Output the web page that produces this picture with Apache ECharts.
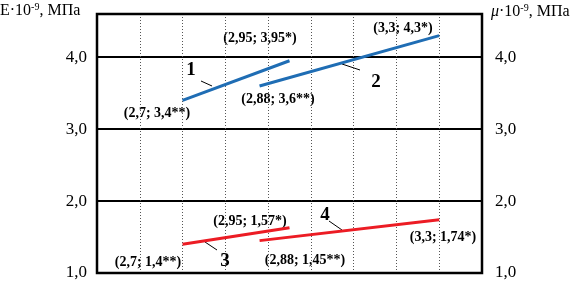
<!DOCTYPE html>
<html><head><meta charset="utf-8">
<script src="https://cdn.jsdelivr.net/npm/echarts@6/dist/echarts.min.js"></script>
<style>html,body{margin:0;padding:0;background:#fff}#c{width:579px;height:284px}</style>
</head><body><div id="c"></div>
<script>
// Data
const line1 = [[2.7, 3.4], [2.95, 3.95]];
const line2 = [[2.88, 3.6], [3.3, 4.3]];
const line3 = [[2.7, 1.4], [2.95, 1.63]];
const line4 = [[2.88, 1.45], [3.3, 1.74]];
const yTicks = [1, 2, 3, 4];
const pointLabels = [
  {t: '(2,7; 3,4**)', x: 157, y: 113},
  {t: '(2,95; 3,95*)', x: 260, y: 38},
  {t: '(3,3; 4,3*)', x: 403, y: 28},
  {t: '(2,88; 3,6**)', x: 278, y: 99},
  {t: '(2,95; 1,57*)', x: 250, y: 221},
  {t: '(2,88; 1,45**)', x: 305, y: 260},
  {t: '(3,3; 1,74*)', x: 443, y: 237},
  {t: '(2,7; 1,4**)', x: 148, y: 262}
];
const curveNames = [
  {t: '1', x: 191, y: 70, l: [201, 81, 212, 86]},
  {t: '2', x: 376, y: 82, l: [342, 64, 360, 70]},
  {t: '3', x: 225, y: 261, l: [205, 242, 217, 250]},
  {t: '4', x: 325, y: 215, l: [329, 221, 342, 230]}
];

const BLUE = '#1f6db4', RED = '#ec1c24';
const font = '"Liberation Serif", "Times New Roman", serif';
const fmt = v => (yTicks.indexOf(Math.round(v*1000)/1000) >= 0) ? v.toFixed(1).replace('.', ',') : '';

const chart = echarts.init(document.getElementById('c'), null, {renderer: 'canvas'});
const graphics = [];
pointLabels.forEach(p => graphics.push({
  type: 'text', x: p.x, y: p.y,
  style: {text: p.t, font: 'bold 14px ' + font, fill: '#000', align: 'center', verticalAlign: 'middle'}
}));
curveNames.forEach(p => {
  graphics.push({type: 'text', x: p.x, y: p.y,
    style: {text: p.t, font: 'bold 19px ' + font, fill: '#000', align: 'center', verticalAlign: 'middle'}});
  graphics.push({type: 'line', shape: {x1: p.l[0], y1: p.l[1], x2: p.l[2], y2: p.l[3]},
    style: {stroke: '#000', lineWidth: 1}});
});
graphics.push({
  type: 'text', x: 0, y: 11,
  style: {
    rich: {
      n: {fontFamily: font, fontSize: 16, fill: '#000'},
      s: {fontFamily: font, fontSize: 10, fill: '#000', verticalAlign: 'top', padding: [0, 0, 8, 0]}
    },
    text: '{n|E·10}{s|-9}{n|, МПа}', verticalAlign: 'middle'
  }
});
graphics.push({
  type: 'text', x: 491, y: 12,
  style: {
    rich: {
      m: {fontFamily: font, fontSize: 16, fontStyle: 'italic', fill: '#000'},
      n: {fontFamily: font, fontSize: 16, fill: '#000'},
      s: {fontFamily: font, fontSize: 10, fill: '#000', padding: [0, 0, 8, 0]}
    },
    text: '{m|μ}{n|·10}{s|-9}{n|, МПа}', verticalAlign: 'middle'
  }
});

const mkLine = (d, c) => ({type: 'line', data: d, symbol: 'none', silent: true,
  lineStyle: {color: c, width: 3}, z: 5});

chart.setOption({
  animation: false,
  backgroundColor: '#fff',
  grid: {left: 97, right: 97, top: 14, bottom: 11, show: true, borderColor: '#000', borderWidth: 2.5, backgroundColor: 'transparent', z: 10},
  xAxis: {
    type: 'value', min: 2.5, max: 3.4, interval: 0.1,
    axisLine: {show: false}, axisTick: {show: false}, axisLabel: {show: false},
    splitLine: {show: true, lineStyle: {color: '#555', type: [1, 2], width: 1}}
  },
  yAxis: [
    {type: 'value', min: 1, max: 4.6, interval: 1, position: 'left',
      axisLine: {show: false}, axisTick: {show: false},
      axisLabel: {formatter: fmt, fontFamily: font, fontSize: 17, color: '#000', margin: 10, showMaxLabel: false},
      splitLine: {show: true, lineStyle: {color: '#000', width: 2}}},
    {type: 'value', min: 1, max: 4.6, interval: 1, position: 'right',
      axisLine: {show: false}, axisTick: {show: false},
      axisLabel: {formatter: fmt, fontFamily: font, fontSize: 17, color: '#000', margin: 13, showMaxLabel: false},
      splitLine: {show: false}}
  ],
  series: [mkLine(line1, BLUE), mkLine(line2, BLUE), mkLine(line3, RED), mkLine(line4, RED)],
  graphic: graphics
});
</script></body></html>
